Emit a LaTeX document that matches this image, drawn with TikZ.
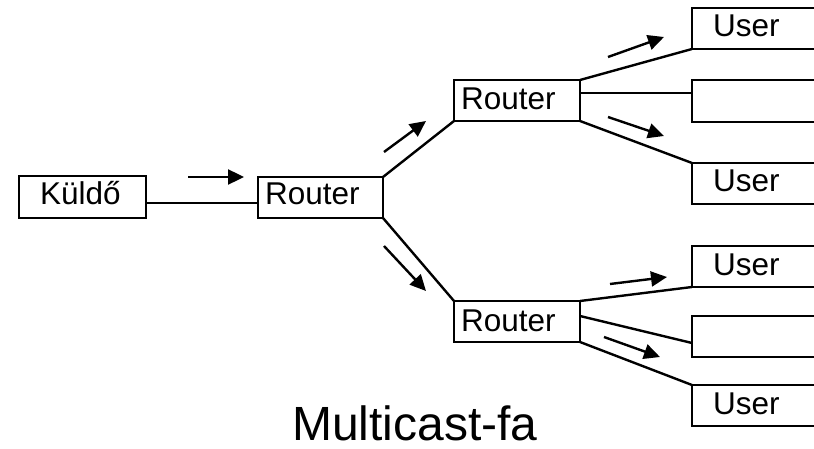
\documentclass[tikz,border=0pt]{standalone}
\usepackage{fontspec}
\setmainfont{Liberation Sans}
\usetikzlibrary{arrows.meta}
\begin{document}
\begin{tikzpicture}[x=1pt,y=-1pt,
  box/.style={draw, line width=2.4pt, inner sep=0pt, outer sep=0pt, anchor=north west},
  lbl/.style={anchor=base west, inner sep=0pt, font=\fontsize{31.5}{38}\selectfont},
  link/.style={line width=2.4pt},
  flow/.style={line width=2.4pt, -{Triangle[length=16pt,width=15pt]}}]
\useasboundingbox (0,0) rectangle (814,449);
\clip (0,0) rectangle (814,449);
% boxes
\node[box, minimum width=127pt, minimum height=42pt] (k) at (19,176) {};
\node[box, minimum width=125pt, minimum height=41pt] (r1) at (258,177) {};
\node[box, minimum width=126pt, minimum height=41pt] (r2) at (454,80) {};
\node[box, minimum width=126pt, minimum height=41pt] (r3) at (454,301) {};
\node[box, minimum width=150pt, minimum height=41pt] (u1) at (692,8) {};
\node[box, minimum width=150pt, minimum height=42pt] (u2) at (692,80) {};
\node[box, minimum width=150pt, minimum height=41pt] (u3) at (692,163) {};
\node[box, minimum width=150pt, minimum height=41pt] (u4) at (692,246) {};
\node[box, minimum width=150pt, minimum height=41pt] (u5) at (692,316) {};
\node[box, minimum width=150pt, minimum height=41pt] (u6) at (692,385) {};
% labels
\node[lbl] (tk) at (40,205) {Küldő};
\node[lbl] (tr1) at (265,205) {Router};
\node[lbl] (tr2) at (461,110) {Router};
\node[lbl] (tr3) at (461,331) {Router};
\node[lbl] (tu1) at (713,37) {User};
\node[lbl] (tu3) at (713,192) {User};
\node[lbl] (tu4) at (713,275) {User};
\node[lbl] (tu6) at (713,414) {User};
\node[anchor=base, inner sep=0pt, font=\fontsize{48}{56}\selectfont] (title) at (415,440) {Multicast-fa};
% links
\draw[link] ([yshift=-6pt]k.east) -- ([yshift=-6pt]k.east -| r1.west);
\draw[link] (r1.north east) -- (r2.south west);
\draw[link] (r1.south east) -- (r3.north west);
\draw[link] (r2.north east) -- (u1.south west);
\draw[link] ([yshift=7.5pt]r2.east) -- ([yshift=7.5pt]r2.east -| u2.west);
\draw[link] (r2.south east) -- (u3.north west);
\draw[link] (r3.north east) -- (u4.south west);
\draw[link] ([yshift=5.5pt]r3.east) -- ([yshift=-6.5pt]u5.west);
\draw[link] (r3.south east) -- (u6.north west);
% flow arrows
\coordinate (a1s) at (188,177); \coordinate (a1e) at (244,177);
\coordinate (a2s) at (384,152); \coordinate (a2e) at (426,121);
\coordinate (a3s) at (384,246); \coordinate (a3e) at (426,291);
\coordinate (a4s) at (608,57);  \coordinate (a4e) at (664,37);
\coordinate (a5s) at (608,117); \coordinate (a5e) at (664,136);
\coordinate (a6s) at (610,284); \coordinate (a6e) at (667,277);
\coordinate (a7s) at (604,337); \coordinate (a7e) at (660,357);
\draw[flow] (a1s) -- (a1e);
\draw[flow] (a2s) -- (a2e);
\draw[flow] (a3s) -- (a3e);
\draw[flow] (a4s) -- (a4e);
\draw[flow] (a5s) -- (a5e);
\draw[flow] (a6s) -- (a6e);
\draw[flow] (a7s) -- (a7e);
\end{tikzpicture}
\end{document}
